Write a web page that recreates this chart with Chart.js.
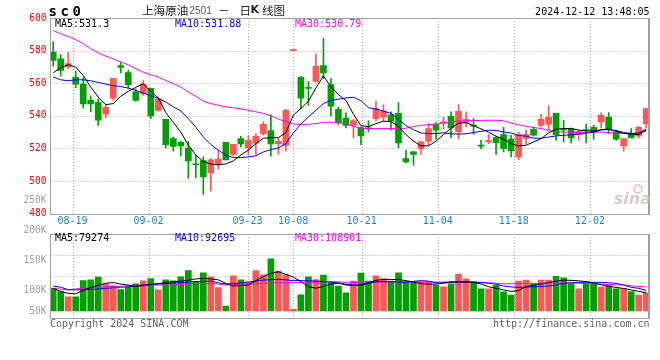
<!DOCTYPE html>
<html><head><meta charset="utf-8">
<script src="https://cdn.jsdelivr.net/npm/chart.js@4.4.1/dist/chart.umd.min.js"></script>
<style>html,body{margin:0;padding:0;background:#fff;}#wrap{position:relative;width:660px;height:360px;}canvas{display:block;}</style>
</head><body><div id="wrap"><canvas id="c" width="660" height="360"></canvas></div>
<script>
// ---------- DATA ----------
const dates = ['08-14','08-15','08-16','08-19','08-20','08-21','08-22','08-23','08-26','08-27','08-28','08-29','08-30','09-02','09-03','09-04','09-05','09-06','09-09','09-10','09-11','09-12','09-13','09-18','09-19','09-20','09-23','09-24','09-25','09-26','09-27','09-30','10-08','10-09','10-10','10-11','10-14','10-15','10-16','10-17','10-18','10-21','10-22','10-23','10-24','10-25','10-28','10-29','10-30','10-31','11-01','11-04','11-05','11-06','11-07','11-08','11-11','11-12','11-13','11-14','11-15','11-18','11-19','11-20','11-21','11-22','11-25','11-26','11-27','11-28','11-29','12-02','12-03','12-04','12-05','12-06','12-09','12-10','12-11','12-12'];
const openP  = [579.1,575.0,570.0,563.6,559.5,549.5,548.3,541.1,550.9,570.9,566.6,554.8,553.4,556.8,543.4,537.9,526.1,523.8,520.2,510.5,512.5,505.0,510.7,523.8,516.3,526.1,520.3,523.2,528.9,531.0,523.0,521.8,580.0,563.6,557.5,561.1,570.9,559.1,544.0,538.7,534.2,532.6,532.6,538.3,539.3,540.7,541.6,513.8,517.9,519.9,524.4,534.6,535.6,539.7,530.1,535.8,534.2,522.0,524.0,526.7,528.5,525.7,514.8,526.1,531.8,534.2,534.8,541.6,532.0,532.2,528.5,531.6,533.0,536.3,539.3,530.1,521.6,529.1,527.5,535.2];
const highP  = [585.6,577.6,579.0,567.5,563.5,552.2,550.5,546.9,563.0,573.0,567.9,556.6,561.7,556.8,551.5,537.9,527.1,524.4,524.4,516.0,514.8,514.0,519.2,523.8,522.6,527.5,527.7,529.1,536.3,540.7,526.1,544.0,580.0,564.2,561.1,577.8,587.6,562.8,545.4,541.8,537.9,533.2,537.1,548.9,546.9,542.4,548.1,518.9,518.3,524.4,535.2,535.8,539.3,542.4,546.9,542.4,538.3,525.0,528.5,527.1,533.0,528.1,530.1,531.2,533.2,540.9,546.0,541.6,537.3,532.6,531.2,535.0,534.2,541.8,542.0,531.2,526.1,532.2,533.8,544.8];
const lowP   = [570.5,564.5,569.0,557.3,544.7,542.4,534.2,538.7,549.5,566.4,557.0,548.9,552.6,538.3,542.8,520.3,518.3,515.5,501.6,502.0,491.8,494.0,507.3,513.0,515.5,521.0,515.9,516.3,528.1,515.3,516.5,518.3,580.0,544.4,546.4,560.7,562.8,539.9,534.8,532.6,526.5,522.4,530.1,536.7,536.7,531.2,520.3,511.2,509.7,516.3,522.0,525.7,532.2,526.5,525.7,533.2,528.7,519.9,523.0,516.3,517.9,514.8,513.2,523.0,527.5,533.2,531.2,525.0,524.0,523.4,525.0,523.4,525.7,532.6,529.1,525.0,518.3,526.5,526.5,532.6];
const closeP = [574.0,567.8,572.0,559.5,547.3,547.3,537.3,545.2,563.0,569.7,559.1,549.5,559.1,539.9,550.3,522.4,521.2,521.6,512.4,510.0,502.5,513.0,513.5,513.0,522.6,522.8,525.0,527.5,534.8,522.8,524.4,543.4,580.0,550.9,556.8,570.5,566.4,546.0,535.8,534.2,537.1,527.7,532.0,544.4,543.0,536.7,523.4,511.8,516.3,524.0,532.2,531.2,536.3,532.6,542.8,537.9,533.6,521.4,524.8,523.6,519.9,518.5,528.5,528.7,528.1,537.9,539.3,528.5,531.4,526.5,530.5,531.0,530.1,540.5,531.8,525.7,526.1,526.5,533.0,544.4];
const ma5P  = [566.4,569.5,571.3,569.9,564.8,557.7,551.5,546.9,547.5,552.0,555.0,557.5,559.7,555.0,551.0,542.0,536.0,530.0,522.0,516.0,512.0,510.4,510.0,510.5,512.4,516.0,519.0,523.0,526.3,526.6,526.6,529.8,540.5,544.5,549.0,557.0,564.5,558.0,553.0,549.5,541.0,534.0,533.4,535.2,536.7,536.5,533.5,528.5,524.5,521.6,521.6,524.5,528.5,532.5,535.5,535.8,534.0,532.0,530.0,527.5,525.7,523.0,521.5,522.0,524.0,526.0,529.5,531.8,532.2,532.2,531.3,530.7,530.8,531.5,531.8,530.5,529.3,528.8,528.5,531.3];
const ma10P = [563.8,562.1,561.5,562.1,562.1,561.5,560.5,559.5,558.5,558.0,557.0,555.6,554.0,552.3,550.7,548.5,545.5,543.0,538.3,533.0,527.1,522.4,518.9,515.9,514.4,514.4,514.8,515.5,517.9,519.3,520.3,523.0,529.5,535.0,539.3,543.4,547.5,549.5,550.2,551.0,551.4,549.3,545.0,544.2,542.9,541.5,538.0,534.0,531.5,529.5,529.1,529.1,529.6,529.0,528.8,529.0,529.8,530.5,531.2,531.1,530.1,529.5,528.0,527.5,526.3,526.3,527.0,527.7,528.1,528.4,528.8,529.4,530.0,531.4,531.6,531.0,529.8,529.2,529.5,531.9];
const ma30P = [592.3,590.3,588.7,586.8,584.2,581.1,578.7,576.6,575.0,573.0,571.3,568.9,566.8,565.2,563.8,561.7,559.7,557.7,554.6,552.0,549.0,547.5,546.5,545.5,545.0,544.3,543.5,542.5,541.5,540.0,538.0,536.5,535.0,534.8,534.8,535.3,536.0,536.2,535.8,535.2,533.5,532.5,532.2,532.2,532.2,532.2,532.2,532.4,533.5,534.2,534.6,535.0,535.6,536.3,536.8,537.0,537.1,537.2,537.3,537.3,537.0,535.6,534.5,533.6,532.8,532.2,531.0,530.3,530.1,529.9,529.8,529.9,530.0,530.1,529.7,529.4,529.2,529.1,529.3,530.8];
const volume = [94,79,58,58,124,127,138,110,104,87,97,111,123,132,86,127,123,139,165,121,156,139,96,20,144,127,119,165,148,213,163,148,8,66,139,128,147,116,102,74,122,155,122,144,131,122,156,119,119,119,119,106,99,111,151,131,119,90,90,105,78,65,122,126,111,126,126,141,135,111,90,111,111,98,104,90,90,79,65,74].map(v => v * 1000);
const volMa5  = [92,80,72,70,85,96,105,113,116,110,106,100,104,108,112,116,119,122,126,131,133,131,127,113,102,104,106,124,140,154,160,150,138,120,99,93,100,110,114,106,104,108,115,125,129,129,128,124,118,112,109,110,114,119,119,118,117,110,99,93,86,80,83,100,105,110,116,122,126,125,123,120,114,107,101,96,92,86,80,75].map(v => v * 1000);
const volMa10 = [102,97,87,86,87,88,90,92,95,97,99,102,106,108,110,112,114,116,118,120,121,122,115,110,112,114,118,122,126,128,129,127,124,124,123,122,120,118,114,110,106,103,113,119,119.7,119.7,118,117,121,123.8,122,115,114,117,118,119.7,118,116,113,109.5,102,98,96.6,97.5,99,100,102,107,113,115,117,117,117,117,115,113,106,96.6,92.5,84].map(v => v * 1000);
const volMa30 = [92,89,86,90,93,95,97,98.5,99.5,101,102.5,104,106,106,106,106,106,108,110,113,113,113,110,106,107,108,110,111,113,114,115.6,115.6,115.6,116,117,118,119,119.7,119,117,117,117.5,118,118.5,119,119,119,119,118.5,118,118,118,118.5,118.5,118,117.5,117,116.5,115.6,113,111,111,112,112.5,113,113,114,114.5,115,114.5,113.5,112,111,110,108,107,106,103,100,99].map(v => v * 1000);

const priceTicks = [480,500,520,540,560,580,600];
const volTickValues = [50000,100000,150000,200000,250000];
const volTickLabels = ['50K','100K','150K','200K','250K'];
const tickDates = ['08-19','09-02','09-23','10-08','10-21','11-04','11-18','12-02'];
const priceLegend = ['MA5:531.3','MA10:531.88','MA30:530.79'];
const volLegend = ['MA5:79274','MA10:92695','MA30:108901'];
const titleCode = 'sc0';
const titleName = '上海原油';
const titleContract = '2501';
const titleTail = ['－','日','K','线图'];
const stamp = '2024-12-12 13:48:05';
const footLeft = 'Copyright 2024 SINA.COM';
const footRight = 'http://finance.sina.com.cn';

// ---------- STYLE / GEOMETRY ----------
const UP = '#ff5656', DOWN = '#00a000';
const GRID = '#a8a8a8', FRAME = '#a0a0a0';
const LEFT = 50.5, RIGHT = 649.5;
const P_TOP = 18, P_BOT = 213.7, V_TOP = 234, V_BOT = 318, V_BASE = 311;
const V_PER_PX = 4080;
const LAB_ANCHOR_V = 200000, LAB_ANCHOR_Y = 230, LAB_PX_PER_V = 30 / 50000;
const GRID_STRETCH = 1.0137, GRID_SHIFT = -0.47;
const MONO = '"DejaVu Sans Mono", "Liberation Mono", monospace';
const CJK = '"Noto Sans CJK SC", sans-serif';

const pxPerPrice = (P_BOT - P_TOP) / (priceTicks[priceTicks.length-1] - priceTicks[0]);
const pMax = priceTicks[priceTicks.length-1];
const pMin = pMax - (V_BOT - P_TOP) / pxPerPrice;
const vMin = -(V_BOT - V_BASE) * V_PER_PX;
const vMax = (V_BASE - P_TOP) * V_PER_PX;
const lMin = LAB_ANCHOR_V - (V_BOT - LAB_ANCHOR_Y) / LAB_PX_PER_V;
const lMax = LAB_ANCHOR_V + (LAB_ANCHOR_Y - P_TOP) / LAB_PX_PER_V;

const isUp = dates.map((d,i) => closeP[i] >= openP[i]);
const colors = isUp.map(u => u ? UP : DOWN);

const sinaPlugin = {
  id: 'sina',
  beforeDatasetsDraw(chart) {
    const {ctx, scales} = chart;
    const x = scales.x, yP = scales.yP;
    ctx.save();
    ctx.strokeStyle = GRID; ctx.lineWidth = 1; ctx.setLineDash([1,2]);
    const seg = (x1,y1,x2,y2) => { ctx.beginPath(); ctx.moveTo(x1,y1); ctx.lineTo(x2,y2); ctx.stroke(); };
    tickDates.forEach(d => {
      const idx = dates.indexOf(d);
      const px = Math.round(x.getPixelForValue(idx * GRID_STRETCH + GRID_SHIFT)) + 0.5;
      seg(px, P_TOP, px, P_BOT);
      seg(px, V_TOP, px, V_BOT);
    });
    priceTicks.slice(1, -1).forEach(v => {
      const py = Math.round(yP.getPixelForValue(v)) + 0.5;
      seg(LEFT, py, RIGHT, py);
    });
    for (let k = 1; k < 4; k++) {
      const py = Math.round(V_TOP + (V_BOT - V_TOP) * k / 4) + 0.5;
      seg(LEFT, py, RIGHT, py);
    }
    ctx.restore();
  },
  afterDatasetsDraw(chart) {
    const {ctx, scales} = chart;
    const x = scales.x, yL = scales.yL;
    ctx.save();
    // frames
    ctx.strokeStyle = FRAME; ctx.lineWidth = 1;
    ctx.strokeRect(LEFT, Math.round(P_TOP)+0.5, RIGHT-LEFT, Math.round(P_BOT)-Math.round(P_TOP));
    ctx.strokeRect(LEFT, V_TOP+0.5, RIGHT-LEFT, V_BOT-V_TOP);
    ctx.beginPath(); ctx.moveTo(RIGHT-1, Math.round(P_TOP)); ctx.lineTo(RIGHT-1, Math.round(P_BOT)+1);
    ctx.moveTo(RIGHT-1, V_TOP); ctx.lineTo(RIGHT-1, V_BOT+1); ctx.stroke();

    ctx.textBaseline = 'middle';
    // legends
    ctx.font = '10px ' + MONO;
    const legCols = ['#000000','#0000ff','#ff00ff'];
    const legX = [55, 175, 295];
    priceLegend.forEach((t,i) => { ctx.fillStyle = legCols[i]; ctx.textAlign='left'; ctx.fillText(t, legX[i], 24); });
    volLegend.forEach((t,i) => { ctx.fillStyle = legCols[i]; ctx.textAlign='left'; ctx.fillText(t, legX[i], 238.5); });

    // date labels
    ctx.fillStyle = '#1a7fd4'; ctx.textAlign = 'center';
    tickDates.forEach(d => {
      const idx = dates.indexOf(d);
      ctx.fillText(d, x.getPixelForValue(idx * GRID_STRETCH + GRID_SHIFT), 221.5);
    });

    // volume labels (grey)
    ctx.font = '9.6px ' + MONO; ctx.fillStyle = '#a0a0a0'; ctx.textAlign = 'right';
    volTickValues.forEach((v,i) => {
      const py = Math.min(yL.getPixelForValue(v), V_BASE);
      ctx.fillText(volTickLabels[i], 46.5, py);
    });

    // titles
    ctx.fillStyle = '#000'; ctx.textAlign = 'left';
    ctx.font = 'bold 14px ' + MONO;
    [...titleCode].forEach((ch,i) => ctx.fillText(ch, 48.5 + i*12, 12.5));
    ctx.fillStyle = '#222';
    ctx.font = '11.6px ' + CJK;
    ctx.fillText(titleName, 142, 10.5);
    ctx.font = '10px "Liberation Sans", Arial, sans-serif'; ctx.fillStyle = '#555';
    ctx.fillText(titleContract, 189.5, 11);
    ctx.fillStyle = '#222';
    ctx.font = '11.6px ' + CJK;
    ctx.fillText(titleTail[0], 218, 10.5);
    ctx.fillText(titleTail[1], 239.5, 10.5);
    ctx.font = 'bold 11px "DejaVu Sans"';
    ctx.fillText(titleTail[2], 250.5, 10.5);
    ctx.font = '11.6px ' + CJK;
    ctx.fillText(titleTail[3], 262, 10.5);

    ctx.font = '10px ' + MONO; ctx.fillStyle = '#000'; ctx.textAlign = 'right';
    ctx.fillText(stamp, 649.5, 12);

    ctx.fillStyle = '#606060';
    ctx.textAlign = 'left'; ctx.fillText(footLeft, 50, 324.5);
    ctx.textAlign = 'right'; ctx.fillText(footRight, 649.5, 324.5);

    // watermark
    ctx.fillStyle = 'rgba(200,185,185,0.75)';
    ctx.font = 'italic bold 16px "DejaVu Sans"';
    ctx.textAlign = 'right';
    ctx.fillText('sina', 651, 200);
    ctx.strokeStyle = 'rgba(240,150,150,0.7)'; ctx.lineWidth = 1.5;
    ctx.beginPath(); ctx.arc(638, 189, 4, 0, Math.PI*2); ctx.stroke();
    ctx.restore();
  }
};

const pts = arr => arr.map((v,i) => ({x:i, y:v}));

new Chart(document.getElementById('c'), {
  type: 'bar',
  data: {
    datasets: [
      { type:'line', data: pts(ma5P), yAxisID:'yP', borderColor:'#000', borderWidth:1, pointRadius:0, tension:0, order:0 },
      { type:'line', data: pts(ma10P), yAxisID:'yP', borderColor:'#0000ff', borderWidth:1, pointRadius:0, tension:0, order:0 },
      { type:'line', data: pts(ma30P), yAxisID:'yP', borderColor:'#ff00ff', borderWidth:1, pointRadius:0, tension:0, order:0 },
      { type:'line', data: pts(volMa5), yAxisID:'yV', borderColor:'#000', borderWidth:1, pointRadius:0, tension:0, order:0 },
      { type:'line', data: pts(volMa10), yAxisID:'yV', borderColor:'#0000ff', borderWidth:1, pointRadius:0, tension:0, order:0 },
      { type:'line', data: pts(volMa30), yAxisID:'yV', borderColor:'#ff00ff', borderWidth:1, pointRadius:0, tension:0, order:0 },
      { type:'bar', data: dates.map((d,i) => ({x:i, y:[Math.min(openP[i],closeP[i]), Math.max(openP[i],closeP[i])]})),
        yAxisID:'yP', backgroundColor: colors, borderWidth:0, barThickness:6, minBarLength:1, grouped:false, order:1 },
      { type:'bar', data: dates.map((d,i) => ({x:i, y:[lowP[i], highP[i]]})),
        yAxisID:'yP', backgroundColor: colors, borderWidth:0, barThickness:1, minBarLength:1, grouped:false, order:2 },
      { type:'bar', data: pts(volume), yAxisID:'yV', backgroundColor: colors, borderWidth:0, barThickness:6, grouped:false, order:3 }
    ]
  },
  options: {
    responsive:false, animation:false, devicePixelRatio:1,
    layout: { padding: { left:0, top:P_TOP, right:660-RIGHT, bottom:360-V_BOT } },
    plugins: { legend:{display:false}, tooltip:{enabled:false} },
    scales: {
      x: { type:'linear', min:-0.36, max:79.44, display:false, offset:false },
      yP: { type:'linear', position:'left', min:pMin, max:pMax,
        afterFit: s => { s.width = LEFT; },
        afterBuildTicks: s => { s.ticks = priceTicks.map(v => ({value:v})); },
        grid: { display:false, drawTicks:false }, border: { display:false },
        ticks: { color:'#ff0000', padding:4, font:{ family:'DejaVu Sans Mono', size:9.6 }, callback: v => String(v) } },
      yV: { type:'linear', min:vMin, max:vMax, display:false },
      yL: { type:'linear', min:lMin, max:lMax, display:false }
    }
  },
  plugins: [sinaPlugin]
});
</script></body></html>
